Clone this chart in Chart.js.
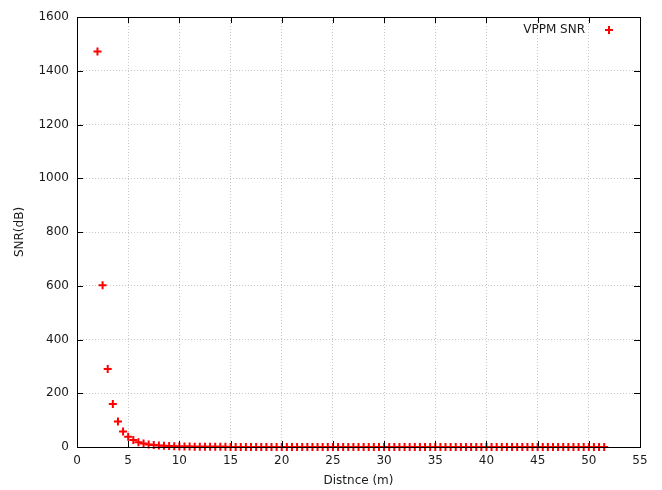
<!DOCTYPE html>
<html>
<head>
<meta charset="utf-8">
<script src="https://cdn.jsdelivr.net/npm/chart.js@4"></script>
<style>
html,body{margin:0;padding:0;background:#fff;}
#wrap{width:662px;height:490px;}
</style>
</head>
<body>
<div id="wrap"><canvas id="c" width="662" height="490"></canvas></div>
<script>
const seriesLabel = "VPPM SNR";
const xTitle = "Distnce (m)";
const yTitle = "SNR(dB)";
const distances = [
  2.0,2.5,3.0,3.5,4.0,4.5,5.0,5.5,6.0,6.5,
  7.0,7.5,8.0,8.5,9.0,9.5,10.0,10.5,11.0,11.5,
  12.0,12.5,13.0,13.5,14.0,14.5,15.0,15.5,16.0,16.5,
  17.0,17.5,18.0,18.5,19.0,19.5,20.0,20.5,21.0,21.5,
  22.0,22.5,23.0,23.5,24.0,24.5,25.0,25.5,26.0,26.5,
  27.0,27.5,28.0,28.5,29.0,29.5,30.0,30.5,31.0,31.5,
  32.0,32.5,33.0,33.5,34.0,34.5,35.0,35.5,36.0,36.5,
  37.0,37.5,38.0,38.5,39.0,39.5,40.0,40.5,41.0,41.5,
  42.0,42.5,43.0,43.5,44.0,44.5,45.0,45.5,46.0,46.5,
  47.0,47.5,48.0,48.5,49.0,49.5,50.0,50.5,51.0,51.5
];
const snr = [
  1472,602,290,160,95,58,38,26,18,13,
  9.5,7,5.4,4.2,3.3,2.6,2.1,1.7,1.4,1.2,
  1.0,0.85,0.72,0.62,0.54,0.47,0.41,0.36,0.31,0.28,
  0.25,0.22,0.2,0.18,0.16,0.15,0.13,0.12,0.11,0.1,
  0.09,0.085,0.078,0.072,0.066,0.061,0.056,0.052,0.048,0.045,
  0.042,0.039,0.036,0.034,0.032,0.03,0.028,0.026,0.025,0.023,
  0.022,0.021,0.02,0.019,0.018,0.017,0.016,0.015,0.014,0.013,
  0.013,0.012,0.012,0.011,0.011,0.01,0.01,0.0095,0.009,0.0085,
  0.008,0.008,0.0075,0.0072,0.007,0.0067,0.0064,0.0061,0.0058,0.0055,
  0.0053,0.0051,0.0049,0.0047,0.0045,0.0043,0.0041,0.004,0.0038,0.0037
];
const xTicks = [0,5,10,15,20,25,30,35,40,45,50,55];
const yTicks = [0,200,400,600,800,1000,1200,1400,1600];

const FONT = "'DejaVu Sans', sans-serif";
const TEXT = '#1a1a1a';

const frame = {
  id: 'frame',
  afterDatasetsDraw(chart) {
    const {ctx, chartArea: a, scales: {x, y}} = chart;
    ctx.save();
    ctx.strokeStyle = '#000';
    ctx.lineWidth = 1;
    ctx.beginPath();
    const L = 6;
    xTicks.forEach(v => {
      const px = Math.round(x.getPixelForValue(v)) + 0.5;
      ctx.moveTo(px, a.bottom); ctx.lineTo(px, a.bottom - L);
      ctx.moveTo(px, a.top); ctx.lineTo(px, a.top + L);
    });
    yTicks.forEach(v => {
      const py = Math.round(y.getPixelForValue(v)) + 0.5;
      ctx.moveTo(a.left, py); ctx.lineTo(a.left + L, py);
      ctx.moveTo(a.right, py); ctx.lineTo(a.right - L, py);
    });
    ctx.stroke();
    ctx.strokeStyle = '#000';
    ctx.strokeRect(Math.round(a.left) + 0.5, Math.round(a.top) + 0.5,
                   Math.round(a.right - a.left), Math.round(a.bottom - a.top));
    // legend
    ctx.font = '12px ' + FONT;
    ctx.fillStyle = TEXT;
    ctx.textAlign = 'right';
    ctx.textBaseline = 'middle';
    const ly = a.top + 13;
    ctx.fillText(chart.data.datasets[0].label, a.right - 55, ly);
    const mx = a.right - 31;
    ctx.strokeStyle = '#ff0000';
    ctx.lineWidth = 2;
    ctx.beginPath();
    ctx.moveTo(mx - 4, ly); ctx.lineTo(mx + 4, ly);
    ctx.moveTo(mx, ly - 4); ctx.lineTo(mx, ly + 4);
    ctx.stroke();
    ctx.restore();
  }
};

new Chart(document.getElementById('c'), {
  type: 'scatter',
  data: {
    datasets: [{
      label: seriesLabel,
      data: distances.map((d, i) => ({x: d, y: snr[i]})),
      pointStyle: 'cross',
      pointRadius: 4,
      pointHoverRadius: 4,
      borderColor: '#ff0000',
      backgroundColor: '#ff0000',
      borderWidth: 2,
      clip: false
    }]
  },
  options: {
    responsive: false,
    animation: false,
    events: [],
    layout: {padding: {top: 17, right: 22, left: 0, bottom: 0}},
    plugins: {legend: {display: false}, tooltip: {enabled: false}},
    scales: {
      x: {
        type: 'linear', min: 0, max: 55,
        afterBuildTicks: s => { s.ticks = xTicks.map(v => ({value: v})); },
        afterFit: s => { s.height = 43; },
        grid: {drawTicks: false, color: '#c8c8c8', lineWidth: 1},
        border: {display: false, dash: [1, 2]},
        ticks: {padding: 7, color: TEXT, font: {family: FONT, size: 12}, maxRotation: 0,
                callback: v => String(v)},
        title: {display: true, text: xTitle, color: TEXT, font: {family: FONT, size: 12}, padding: {top: 0, bottom: 2}}
      },
      y: {
        type: 'linear', min: 0, max: 1600,
        afterBuildTicks: s => { s.ticks = yTicks.map(v => ({value: v})); },
        afterFit: s => { s.width = 77; },
        grid: {drawTicks: false, color: '#c8c8c8', lineWidth: 1},
        border: {display: false, dash: [1, 2]},
        ticks: {padding: 8, color: TEXT, font: {family: FONT, size: 12},
                callback: v => String(v)},
        title: {display: true, text: yTitle, color: TEXT, font: {family: FONT, size: 12}, padding: {top: 13, bottom: 0}}
      }
    }
  },
  plugins: [frame]
});
</script>
</body>
</html>
